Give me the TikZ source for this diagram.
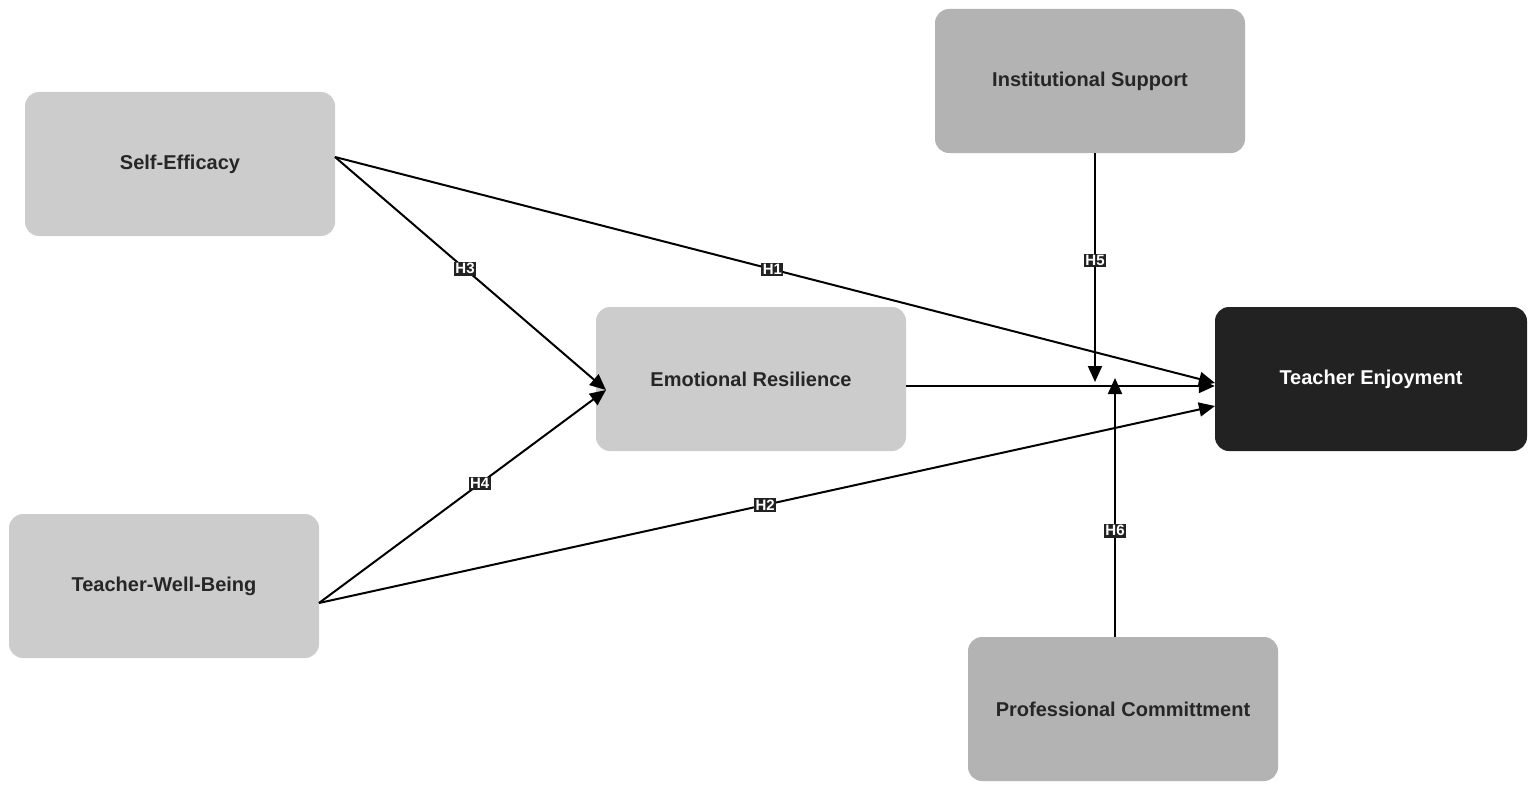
\documentclass[tikz,border=0pt]{standalone}
\usepackage{fontspec}
\setmainfont{Liberation Sans}
\usetikzlibrary{arrows.meta}
\definecolor{lg}{HTML}{CCCCCC}
\definecolor{dg}{HTML}{B3B3B3}
\definecolor{bk}{HTML}{222222}
\begin{document}
\begin{tikzpicture}[x=1pt,y=-1pt,
  box/.style={rounded corners=14pt,minimum width=310pt,minimum height=144pt,inner sep=0pt,font=\bfseries\fontsize{20}{24}\selectfont,text=black!85},
  lab/.style={fill=bk,text=white,font=\bfseries\fontsize{15}{16}\selectfont,inner sep=1.5pt},
  arr/.style={line width=2pt,-{Triangle[length=16pt,width=14pt]}}]
\useasboundingbox (0,0) rectangle (1535,792);
\node[box,fill=lg] (se) at (180,164) {Self-Efficacy};
\node[box,fill=dg] (is) at (1090,81) {Institutional Support};
\node[box,fill=lg] (er) at (751,379) {Emotional Resilience};
\node[box,fill=bk,text=white,minimum width=312pt] (te) at (1371,379) {Teacher Enjoyment};
\node[box,fill=lg] (tw) at (164,586) {Teacher-Well-Being};
\node[box,fill=dg] (pc) at (1123,709) {Professional Committment};
\coordinate (seo) at (335,157);
\coordinate (two) at (319,603);
\coordinate (eri) at (606,390);
\coordinate (te1) at (1215,383);
\coordinate (te2) at (1215,406);
\coordinate (m5) at (1095,382);
\coordinate (m6) at (1115,378);
\draw[arr] (seo) -- node[lab,pos=0.497]{H1} (te1);
\draw[arr] (two) -- node[lab,pos=0.498]{H2} (te2);
\draw[arr] (seo) -- node[lab,pos=0.48]{H3} (eri);
\draw[arr] (two) -- node[lab,pos=0.56]{H4} (eri);
\draw[arr] (er.east |- 0,386) -- (te.west |- 0,386);
\draw[arr] (is.south -| m5) -- node[lab,pos=0.47]{H5} (m5);
\draw[arr] (pc.north -| m6) -- node[lab,pos=0.41]{H6} (m6);
\end{tikzpicture}
\end{document}
